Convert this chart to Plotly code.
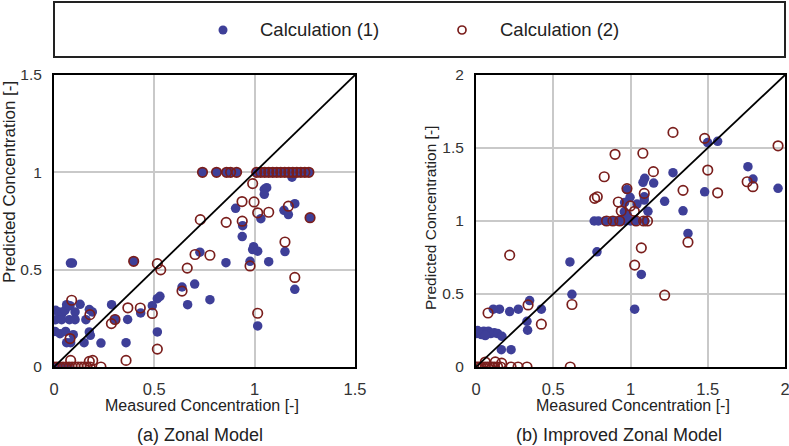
import plotly.graph_objects as go

W, H = 789, 446

# ---------------- data ----------------
# (a) Zonal Model
row1_x_a = [0.74, 0.81, 0.86, 0.88, 0.91, 1.01, 1.03, 1.05, 1.07, 1.09, 1.11, 1.13,
            1.15, 1.17, 1.19, 1.21, 1.23, 1.25, 1.27]
a_calc1_x = row1_x_a + [
    1.048, 1.06, 1.048, 1.186, 0.905, 1.2, 1.146, 1.168, 1.031, 0.94, 1.276, 0.938,
    0.995, 0.99, 1.015, 0.727, 1.151, 1.07, 0.977, 0.857, 0.082, 0.092, 0.397, 1.2,
    1.015, 0.701, 0.777, 0.666, 0.638, 0.528, 0.515, 0.49, 0.515, 0.432, 0.367, 0.359,
    0.287, 0.304, 0.234,
    0.008, 0.025, 0.041, 0.055, 0.063, 0.08, 0.105, 0.13, 0.176, 0.191, 0.008, 0.038,
    0.077, 0.105, 0.159, 0.005, 0.03, 0.058, 0.096, 0.176, 0.181, 0.063, 0.083, 0.15,
    0.01, 0.04, 0.07]
a_calc1_y = [1.0] * len(row1_x_a) + [
    0.913, 0.921, 0.887, 0.975, 0.815, 0.839, 0.805, 0.783, 0.762, 0.726, 0.767, 0.67,
    0.618, 0.603, 0.595, 0.59, 0.593, 0.541, 0.543, 0.536, 0.534, 0.534, 0.543, 0.399,
    0.211, 0.426, 0.346, 0.32, 0.411, 0.363, 0.351, 0.315, 0.18, 0.278, 0.244, 0.125,
    0.32, 0.245, 0.123,
    0.291, 0.283, 0.277, 0.291, 0.32, 0.315, 0.283, 0.322, 0.295, 0.283, 0.243, 0.243,
    0.243, 0.243, 0.243, 0.183, 0.171, 0.183, 0.166, 0.18, 0.163, 0.125, 0.125, 0.125,
    0.0, 0.0, 0.0]

row0_x_a = [0.0, 0.015, 0.03, 0.045, 0.06, 0.075, 0.09, 0.105, 0.12, 0.135, 0.15,
            0.165, 0.18]
a_calc2_x = row1_x_a + row0_x_a + [
    0.99, 0.937, 0.997, 1.168, 1.015, 1.07, 0.729, 0.858, 0.938, 1.276, 1.151, 0.977,
    1.2, 0.664, 0.703, 0.777, 1.015, 0.397, 0.515, 0.532, 0.638, 0.49, 0.515, 0.43,
    0.368, 0.359, 0.304, 0.286, 0.234, 0.088, 0.179, 0.08, 0.083, 0.176, 0.193]
a_calc2_y = [1.0] * len(row1_x_a) + [0.0] * len(row0_x_a) + [
    0.942, 0.85, 0.848, 0.826, 0.792, 0.795, 0.757, 0.743, 0.749, 0.767, 0.642, 0.519,
    0.46, 0.508, 0.578, 0.574, 0.276, 0.543, 0.531, 0.499, 0.39, 0.275, 0.092, 0.303,
    0.304, 0.034, 0.244, 0.223, 0.0, 0.343, 0.269, 0.146, 0.034, 0.029, 0.034]

# (b) Improved Zonal Model
b_calc1_x = [
    1.499, 1.564, 1.275, 1.76, 1.793, 1.955, 1.092, 1.081, 1.15, 1.48, 0.977, 0.997,
    1.089, 1.089, 0.962, 1.042, 1.221, 1.34, 1.113, 0.96, 0.97, 0.979, 1.372,
    0.765, 0.792, 0.835, 0.878, 0.91, 0.943, 0.968, 1.0, 1.031, 1.094,
    0.783, 0.608, 1.07, 1.027, 0.621, 0.347, 0.423, 0.33, 0.334, 0.274, 0.218, 0.152,
    0.112, 0.164, 0.227,
    0.002, 0.02, 0.035, 0.05, 0.065, 0.08, 0.095, 0.118, 0.14, 0.168, 0.01, 0.06]
b_calc1_y = [
    1.537, 1.546, 1.331, 1.372, 1.287, 1.224, 1.292, 1.265, 1.26, 1.2, 1.215, 1.162,
    1.166, 1.143, 1.127, 1.116, 1.135, 1.07, 1.066, 1.063, 1.05, 1.04, 0.915,
    1.0, 1.0, 1.0, 1.0, 1.0, 1.0, 1.0, 1.0, 1.0, 1.0,
    0.789, 0.72, 0.634, 0.396, 0.498, 0.455, 0.396, 0.313, 0.252, 0.396, 0.38, 0.396,
    0.396, 0.119, 0.119,
    0.229, 0.24, 0.222, 0.245, 0.229, 0.245, 0.229, 0.235, 0.229, 0.21, 0.25, 0.215]

b_calc2_x = [
    1.275, 1.48, 1.955, 0.9, 1.08, 0.83, 1.148, 1.5, 1.755, 1.792, 1.34, 1.564, 0.768,
    0.785, 0.977, 1.089, 0.921, 0.999, 0.94, 1.025, 1.372, 1.07, 1.027, 1.221, 0.621,
    0.218, 0.337, 0.423, 0.078, 0.06, 0.125, 0.166,
    0.845, 0.886, 0.93, 1.036, 1.085, 1.11,
    0.002, 0.015, 0.03, 0.045, 0.06, 0.075, 0.09, 0.105, 0.12, 0.14, 0.16, 0.227,
    0.272, 0.33, 0.61]
b_calc2_y = [
    1.607, 1.566, 1.515, 1.457, 1.464, 1.303, 1.338, 1.349, 1.269, 1.235, 1.21, 1.193,
    1.155, 1.166, 1.222, 1.189, 1.13, 1.103, 1.068, 1.066, 0.855, 0.816, 0.698, 0.492,
    0.428, 0.766, 0.425, 0.293, 0.37, 0.034, 0.035, 0.026,
    1.0, 1.0, 1.0, 1.0, 1.0, 1.0,
    0.0, 0.0, 0.0, 0.0, 0.0, 0.0, 0.0, 0.0, 0.0, 0.0, 0.0, 0.0,
    0.0, 0.0, 0.0]

a_ticks = [0, 0.5, 1, 1.5]
a_ticktext = ["0", "0.5", "1", "1.5"]
b_ticks = [0, 0.5, 1, 1.5, 2]
b_ticktext = ["0", "0.5", "1", "1.5", "2"]

series_names = ["Calculation (1)", "Calculation (2)"]
captions = ["(a) Zonal Model", "(b) Improved Zonal Model"]
x_title = "Measured Concentration [-]"
y_title = "Predicted Concentration [-]"

# ---------------- style ----------------
BLUE = "#3E3F98"
RED = "#7A1E1C"
FONT = "Liberation Sans, Arial, sans-serif"
TICK_COLOR = "#333333"
TITLE_COLOR = "#222222"

def px_x(p):
    return p / W

def px_y(p):
    return 1 - p / H

fig = go.Figure()

blue_marker = dict(size=9.5, color=BLUE, line=dict(width=0))
red_marker = dict(size=9.5, symbol="circle-open", color=RED, line=dict(width=1.7, color=RED))

fig.add_trace(go.Scatter(x=a_calc1_x, y=a_calc1_y, mode="markers", name=series_names[0],
                         marker=blue_marker, xaxis="x", yaxis="y", showlegend=False))
fig.add_trace(go.Scatter(x=a_calc2_x, y=a_calc2_y, mode="markers", name=series_names[1],
                         marker=red_marker, xaxis="x", yaxis="y", showlegend=False))
fig.add_trace(go.Scatter(x=b_calc1_x, y=b_calc1_y, mode="markers", name=series_names[0],
                         marker=blue_marker, xaxis="x2", yaxis="y2", showlegend=False))
fig.add_trace(go.Scatter(x=b_calc2_x, y=b_calc2_y, mode="markers", name=series_names[1],
                         marker=red_marker, xaxis="x2", yaxis="y2", showlegend=False))

# plot areas in pixels
A_L, A_R = 54, 355
B_L, B_R = 476, 785
P_T, P_B = 75, 367

def axis(domain, rng, tickvals, ticktext, anchor, size, standoff):
    return dict(domain=domain, range=rng, tickvals=tickvals, ticktext=ticktext,
                showgrid=True, gridcolor="#c9c9c9", gridwidth=1.5,
                showline=True, linecolor="black", linewidth=2, mirror=True,
                zeroline=False, ticks="", ticklabelstandoff=standoff,
                ticklabeloverflow="allow",
                tickfont=dict(family=FONT, size=size, color=TICK_COLOR),
                anchor=anchor, automargin=False, fixedrange=True)

ydom = [px_y(P_B), px_y(P_T)]
fig.update_layout(
    width=W, height=H,
    margin=dict(l=0, r=0, t=0, b=0),
    paper_bgcolor="white", plot_bgcolor="white",
    showlegend=False,
    xaxis=axis([px_x(A_L), px_x(A_R)], [0, 1.5], a_ticks, a_ticktext, "y", 16.5, 6),
    yaxis=axis(ydom, [0, 1.5], a_ticks, a_ticktext, "x", 15.5, 7),
    xaxis2=axis([px_x(B_L), px_x(B_R)], [0, 2], b_ticks, b_ticktext, "y2", 16.5, 6),
    yaxis2=axis(ydom, [0, 2], b_ticks, b_ticktext, "x2", 15.5, 7),
)

# 1:1 reference lines
fig.add_shape(type="line", xref="x", yref="y", x0=0, y0=0, x1=1.5, y1=1.5,
              line=dict(color="black", width=1.8))
fig.add_shape(type="line", xref="x2", yref="y2", x0=0, y0=0, x1=2, y1=2,
              line=dict(color="black", width=1.8))

# legend box and items
fig.add_shape(type="rect", xref="paper", yref="paper",
              x0=px_x(54), x1=px_x(785), y0=px_y(57), y1=px_y(2),
              line=dict(color="#222222", width=2), fillcolor="rgba(0,0,0,0)")
r = 4.5
fig.add_shape(type="circle", xref="paper", yref="paper",
              x0=px_x(223 - r), x1=px_x(223 + r), y0=px_y(30 + r), y1=px_y(30 - r),
              line=dict(width=0), fillcolor=BLUE)
r2 = 4.0
fig.add_shape(type="circle", xref="paper", yref="paper",
              x0=px_x(462 - r2), x1=px_x(462 + r2), y0=px_y(30 + r2), y1=px_y(30 - r2),
              line=dict(width=1.7, color=RED), fillcolor="white")

ann = []
ann.append(dict(text=series_names[0], x=px_x(258), y=px_y(30), xanchor="left", yanchor="middle"))
ann.append(dict(text=series_names[1], x=px_x(498), y=px_y(30), xanchor="left", yanchor="middle"))
for a in ann:
    a.update(xref="paper", yref="paper", showarrow=False,
             font=dict(family=FONT, size=18.5, color=TITLE_COLOR))

titles = [
    dict(text=x_title, x=px_x(202), y=px_y(405), size=16, angle=0),
    dict(text=x_title, x=px_x(633), y=px_y(405), size=16, angle=0),
    dict(text=y_title, x=px_x(9), y=px_y(182), size=17, angle=-90),
    dict(text=y_title, x=px_x(430), y=px_y(218), size=15.5, angle=-90),
    dict(text=captions[0], x=px_x(200), y=px_y(435), size=18, angle=0),
    dict(text=captions[1], x=px_x(619), y=px_y(435), size=18, angle=0),
]
for t in titles:
    ann.append(dict(text=t["text"], x=t["x"], y=t["y"], xref="paper", yref="paper",
                    xanchor="center", yanchor="middle", textangle=t["angle"],
                    showarrow=False, font=dict(family=FONT, size=t["size"], color=TITLE_COLOR)))

fig.update_layout(annotations=ann)

fig.write_html("out.html", config={"displayModeBar": False},
               post_script="document.body.style.margin='0';document.body.style.overflow='hidden';")
